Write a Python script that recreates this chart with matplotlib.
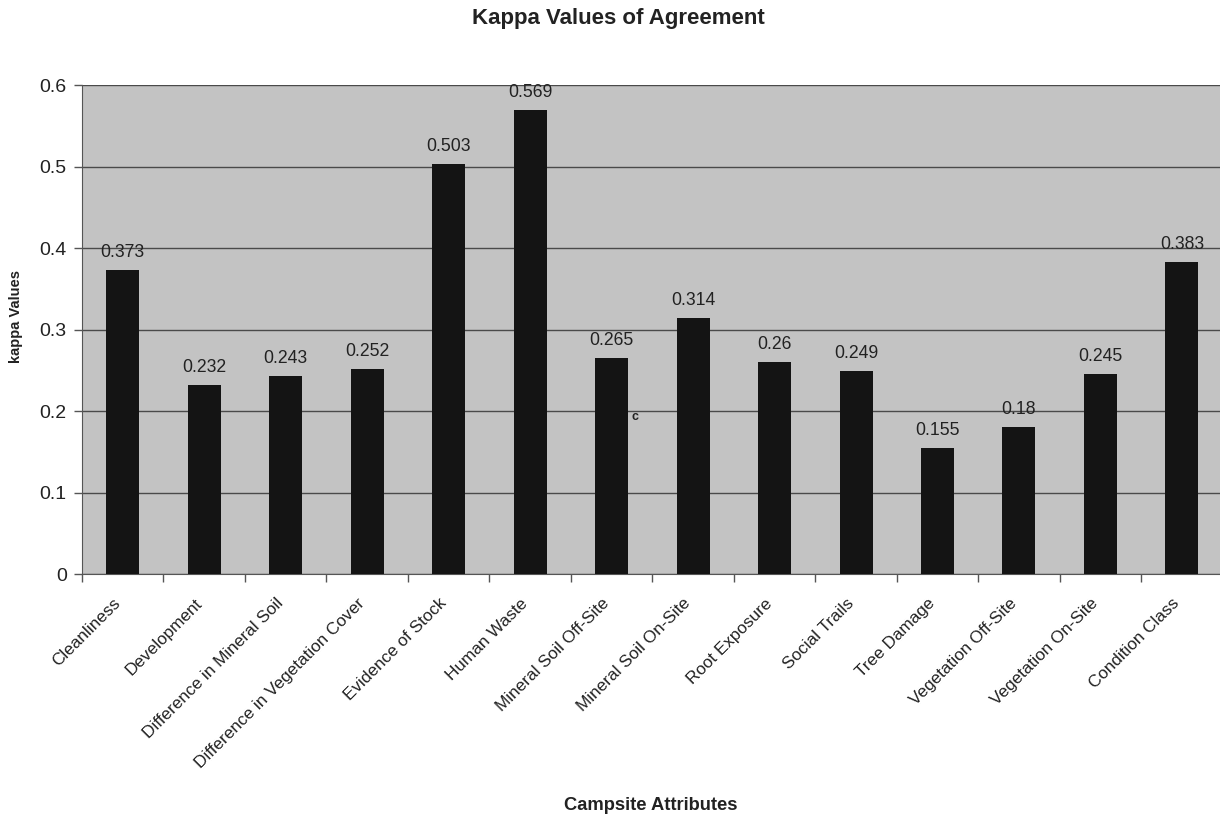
import matplotlib
matplotlib.use("Agg")
import matplotlib.pyplot as plt
import matplotlib.transforms as mtransforms
import numpy as np

plt.rcParams['font.family'] = ['Liberation Sans', 'DejaVu Sans']

categories = [
    "Cleanliness", "Development", "Difference in Mineral Soil",
    "Difference in Vegetation Cover", "Evidence of Stock", "Human Waste",
    "Mineral Soil Off-Site", "Mineral Soil On-Site", "Root Exposure",
    "Social Trails", "Tree Damage", "Vegetation Off-Site",
    "Vegetation On-Site", "Condition Class",
]
kappa = [0.373, 0.232, 0.243, 0.252, 0.503, 0.569, 0.265, 0.314,
         0.26, 0.249, 0.155, 0.18, 0.245, 0.383]
value_labels = ["0.373", "0.232", "0.243", "0.252", "0.503", "0.569", "0.265",
                "0.314", "0.26", "0.249", "0.155", "0.18", "0.245", "0.383"]
y_ticks = [0, 0.1, 0.2, 0.3, 0.4, 0.5, 0.6]
y_tick_labels = ["0", "0.1", "0.2", "0.3", "0.4", "0.5", "0.6"]

text_color = "#222222"
line_color = "#4a4a4a"

fig = plt.figure(figsize=(12.2, 8.19), dpi=100)
ax = fig.add_axes([0.0672, 0.2991, 0.935, 0.5971])
ax.set_facecolor("#c3c3c3")

x = np.arange(len(categories))
ax.bar(x, kappa, width=0.405, color="#141414", zorder=3)

for xi, v, lab in zip(x, kappa, value_labels):
    ax.annotate(lab, (xi, v), xytext=(0, 12.5), textcoords="offset points",
                ha="center", va="center", fontsize=12.7, color=text_color)

# small stray mark beside the Mineral Soil Off-Site bar
ax.text(6.29, 0.193, "c", fontsize=9, fontweight="bold", color=text_color,
        ha="center", va="center", zorder=4)

ax.set_xlim(-0.5, len(categories) - 0.5)
ax.set_ylim(0, 0.6)
ax.set_yticks(y_ticks)
ax.set_yticklabels(y_tick_labels, fontsize=14, color=text_color)
ax.yaxis.grid(True, color=line_color, linewidth=1.0, zorder=1)
ax.tick_params(axis="y", length=6, width=1, color="#555555", pad=5)

ax.set_xticks(x)
ax.set_xticklabels(categories, rotation=45, ha="right",
                   rotation_mode="anchor", fontsize=12.3, color=text_color)
ax.tick_params(axis="x", which="major", length=0, pad=12)
shift = mtransforms.ScaledTranslation(-0.10, -0.05, fig.dpi_scale_trans)
for lbl in ax.get_xticklabels():
    lbl.set_transform(lbl.get_transform() + shift)
ax.set_xticks(np.arange(len(categories) + 1) - 0.5, minor=True)
ax.tick_params(axis="x", which="minor", length=6, width=1, color="#555555")

for side in ("top", "right"):
    ax.spines[side].set_visible(False)
ax.spines["left"].set_color("#555555")
ax.spines["bottom"].set_color("#555555")
ax.axhline(0.6, color=line_color, linewidth=1.2, zorder=2)

fig.text(0.013, 0.614, "kappa Values", rotation=90, ha="center",
         va="center", fontsize=10.5, fontweight="bold", color=text_color)
fig.text(0.533, 0.017, "Campsite Attributes", ha="center", va="center",
         fontsize=13.2, fontweight="bold", color=text_color)
fig.text(0.5066, 0.978, "Kappa Values of Agreement", ha="center",
         va="center", fontsize=16, fontweight="bold", color=text_color)

fig.savefig("out.png", dpi=100)
